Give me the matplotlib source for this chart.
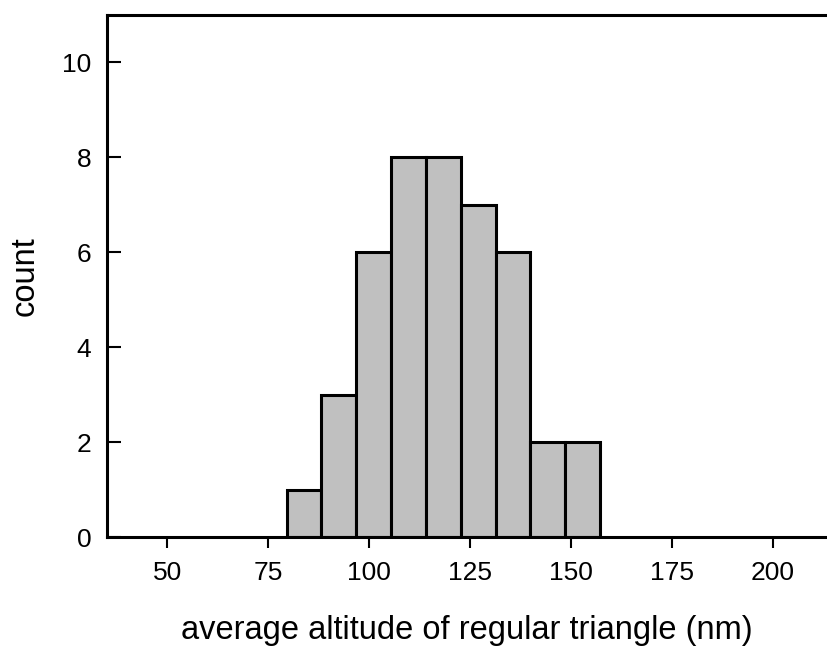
import numpy as np
import matplotlib.pyplot as plt

plt.rcParams['font.family'] = ['Liberation Sans', 'DejaVu Sans']

# histogram of altitudes (nm)
edges = [79.6, 88.2, 96.9, 105.5, 114.1, 122.7, 131.4, 140.0, 148.6, 157.2]
counts = [1, 3, 6, 8, 8, 7, 6, 2, 2]
xticks = [50, 75, 100, 125, 150, 175, 200]
yticks = [0, 2, 4, 6, 8, 10]

fig = plt.figure(figsize=(8.27, 6.48), dpi=100)
ax = fig.add_axes([0.129, 0.171, 0.871, 0.806])

widths = np.diff(edges)
ax.bar(edges[:-1], counts, width=widths, align='edge', color='#c0c0c0',
       edgecolor='black', linewidth=2.2, zorder=2)

ax.set_xlim(35, 213.5)
ax.set_ylim(0, 11)
ax.set_xticks(xticks)
ax.set_yticks(yticks)
ax.tick_params(axis='x', direction='out', length=8, width=1.5, labelsize=19, pad=9)
ax.tick_params(axis='y', direction='in', length=10, width=1.5, labelsize=19, pad=11)
for s in ['left', 'top', 'bottom']:
    ax.spines[s].set_linewidth(2.2)
ax.spines['right'].set_visible(False)

ax.set_xlabel('average altitude of regular triangle (nm)', fontsize=23.5)
ax.set_ylabel('count', fontsize=23.5)
ax.xaxis.set_label_coords(0.5, -0.149)
ax.yaxis.set_label_coords(-0.092, 0.5)

fig.savefig('out.png', dpi=100)
